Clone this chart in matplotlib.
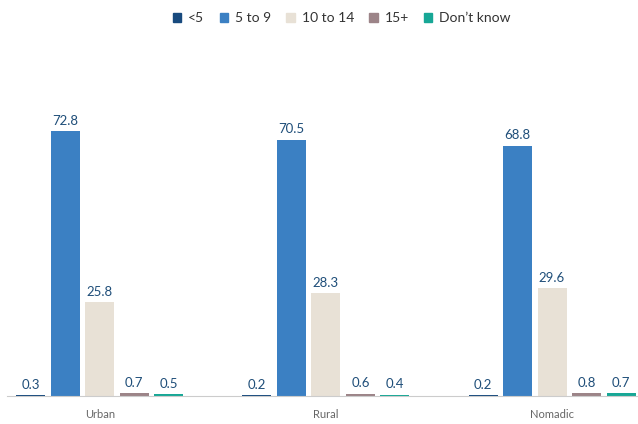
import matplotlib
matplotlib.use("Agg")
import matplotlib.pyplot as plt
import numpy as np

categories = ["Urban", "Rural", "Nomadic"]
series = ["<5", "5 to 9", "10 to 14", "15+", "Don\u2019t know"]
values = {
    "<5": [0.3, 0.2, 0.2],
    "5 to 9": [72.8, 70.5, 68.8],
    "10 to 14": [25.8, 28.3, 29.6],
    "15+": [0.7, 0.6, 0.8],
    "Don\u2019t know": [0.5, 0.4, 0.7],
}
colors = ["#184a7e", "#3b80c3", "#e8e1d6", "#9c8488", "#17a796"]

plt.rcParams['font.family'] = ['Lato', 'DejaVu Sans']
W, H = 638, 424
fig = plt.figure(figsize=(W/100, H/100), dpi=100)
ax = fig.add_axes([7/W, 1-396/H, (638-7)/W, 291/H])

x = np.arange(len(categories))
pitch = 0.1525
width = 0.128
for i, s in enumerate(series):
    xs = x + (i-2)*pitch
    ax.bar(xs, values[s], width=width, color=colors[i], label=s)
    for xi, v in zip(xs, values[s]):
        ax.text(xi, v + 1.2, f"{v}", ha='center', va='bottom', fontsize=9.5, color='#1f4e79')

ax.set_xlim(-0.41, 2.38)
ax.set_ylim(0, 80)
for sp in ['top', 'right', 'left']:
    ax.spines[sp].set_visible(False)
ax.spines['bottom'].set_color('#cccccc')
ax.spines['bottom'].set_linewidth(0.8)
ax.set_yticks([])
ax.set_xticks(x)
ax.set_xticklabels(categories, fontsize=8, color='#666666')
ax.tick_params(axis='x', length=0, pad=9)

handles = [plt.Rectangle((0, 0), 1, 1, color=c) for c in colors]
fig.legend(handles, series, loc='center', bbox_to_anchor=(342/W, 1-18/H), ncol=5,
           frameon=False, fontsize=10, handlelength=0.6, handleheight=0.6,
           handletextpad=0.5, columnspacing=1.1, labelcolor='#333333')

fig.savefig("out.png", dpi=100)
